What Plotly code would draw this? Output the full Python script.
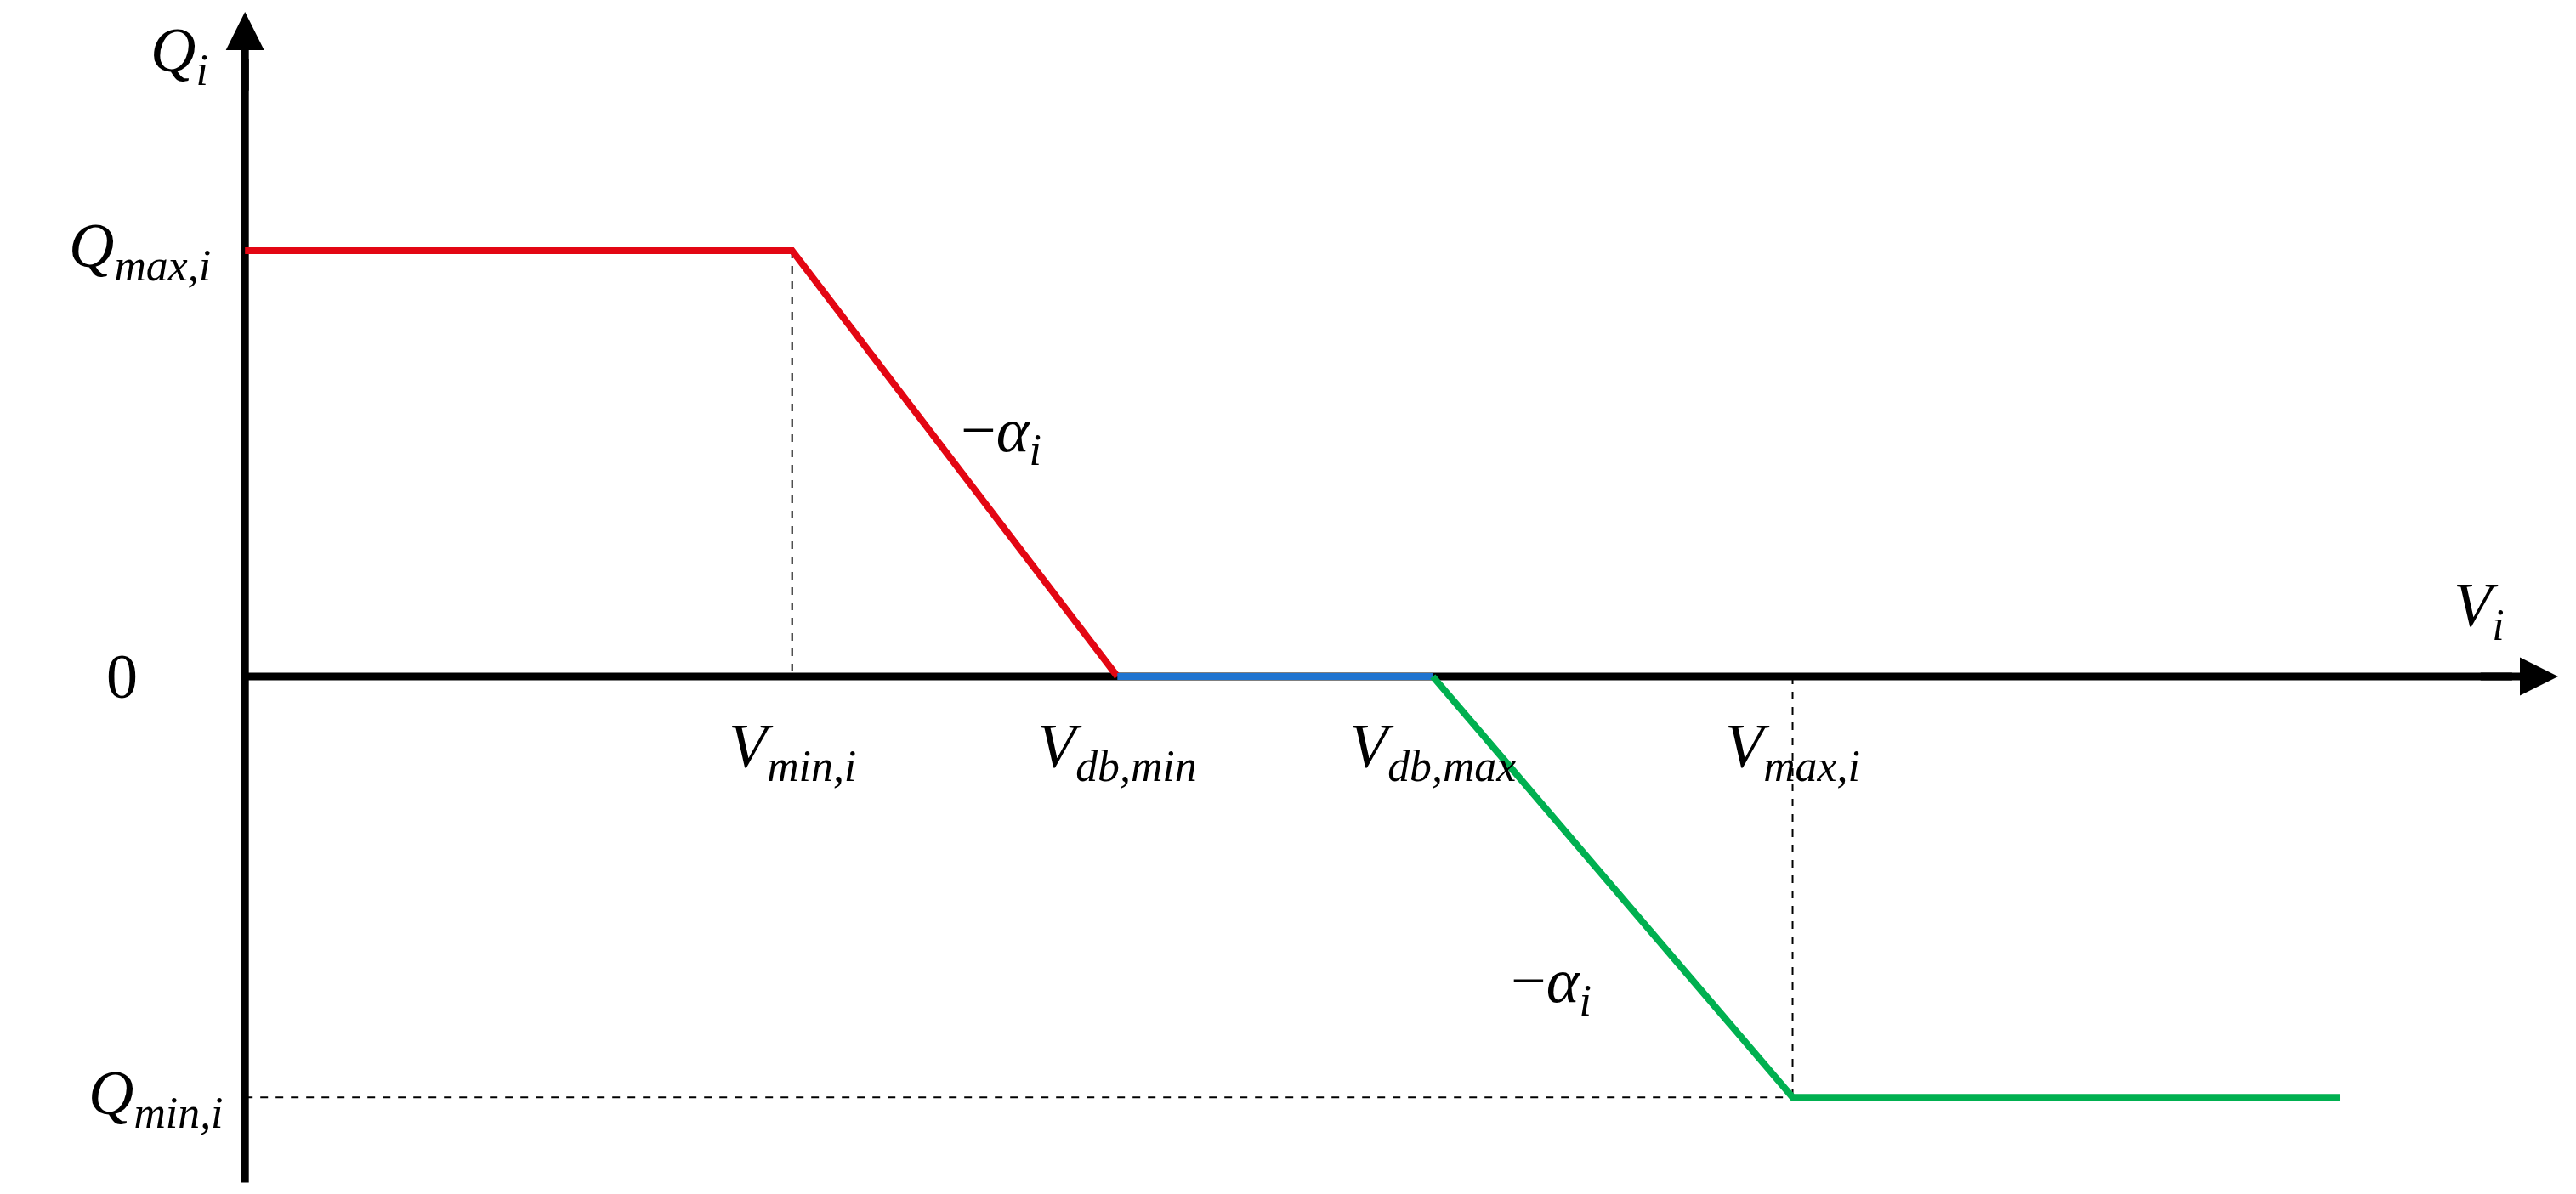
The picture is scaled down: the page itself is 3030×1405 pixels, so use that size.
import plotly.graph_objects as go

# breakpoints of the droop curve (arbitrary units)
v_points = [0.0, 3.33, 5.31, 7.23, 9.42, 12.75]
q_max = 2.55
q_min = -2.52

red_v = v_points[0:3]
red_q = [q_max, q_max, 0]
blue_v = v_points[2:4]
blue_q = [0, 0]
green_v = v_points[3:6]
green_q = [0, q_min, q_min]

v_labels = ["<i>V</i><sub><i>min,i</i></sub>", "<i>V</i><sub><i>db,min</i></sub>",
            "<i>V</i><sub><i>db,max</i></sub>", "<i>V</i><sub><i>max,i</i></sub>"]

FONT = dict(family="Liberation Serif", size=74, color="black")

fig = go.Figure()

# dashed guides
fig.add_trace(go.Scatter(x=[v_points[1], v_points[1]], y=[q_max, 0], mode="lines",
                         line=dict(color="black", width=2, dash="dash")))
fig.add_trace(go.Scatter(x=[v_points[4], v_points[4]], y=[0, q_min], mode="lines",
                         line=dict(color="black", width=2, dash="dash")))
fig.add_trace(go.Scatter(x=[0, v_points[4]], y=[q_min, q_min], mode="lines",
                         line=dict(color="black", width=2, dash="dash")))

# axes
fig.add_trace(go.Scatter(x=[0, 13.8], y=[0, 0], mode="lines", line=dict(color="black", width=9)))
fig.add_trace(go.Scatter(x=[0, 0], y=[-3.03, 3.7], mode="lines", line=dict(color="black", width=9)))
fig.add_annotation(x=14.08, y=0, ax=13.6, ay=0, axref="x", ayref="y", xref="x", yref="y",
                   showarrow=True, arrowhead=2, arrowsize=1, arrowwidth=9, arrowcolor="black", text="")
fig.add_annotation(x=0, y=3.98, ax=0, ay=3.5, axref="x", ayref="y", xref="x", yref="y",
                   showarrow=True, arrowhead=2, arrowsize=1, arrowwidth=9, arrowcolor="black", text="")

# curve
fig.add_trace(go.Scatter(x=red_v, y=red_q, mode="lines", line=dict(color="#e30613", width=8)))
fig.add_trace(go.Scatter(x=blue_v, y=blue_q, mode="lines", line=dict(color="#1f74d0", width=8)))
fig.add_trace(go.Scatter(x=green_v, y=green_q, mode="lines", line=dict(color="#00b050", width=8)))

# labels
for v, lab in zip(v_points[1:5], v_labels):
    fig.add_annotation(x=v, y=-0.2, text=lab, showarrow=False, font=FONT, yanchor="top")
fig.add_annotation(x=-0.2, y=q_max, text="<i>Q</i><sub><i>max,i</i></sub>", showarrow=False,
                   font=FONT, xanchor="right")
fig.add_annotation(x=-0.12, y=q_min, text="<i>Q</i><sub><i>min,i</i></sub>", showarrow=False,
                   font=FONT, xanchor="right")
fig.add_annotation(x=-0.75, y=0, text="0", showarrow=False, font=FONT)
fig.add_annotation(x=-0.4, y=3.72, text="<i>Q</i><sub><i>i</i></sub>", showarrow=False, font=FONT)
fig.add_annotation(x=13.6, y=0.4, text="<i>V</i><sub><i>i</i></sub>", showarrow=False, font=FONT)
fig.add_annotation(x=4.6, y=1.45, text="−<i>α</i><sub><i>i</i></sub>", showarrow=False, font=FONT)
fig.add_annotation(x=7.95, y=-1.85, text="−<i>α</i><sub><i>i</i></sub>", showarrow=False, font=FONT)

fig.update_layout(
    width=3030, height=1405, showlegend=False,
    paper_bgcolor="white", plot_bgcolor="white",
    margin=dict(l=0, r=0, t=0, b=0),
    xaxis=dict(range=[-1.45, 14.23], visible=False),
    yaxis=dict(range=[-3.14, 4.01], visible=False),
)

fig.write_html("out.html")
